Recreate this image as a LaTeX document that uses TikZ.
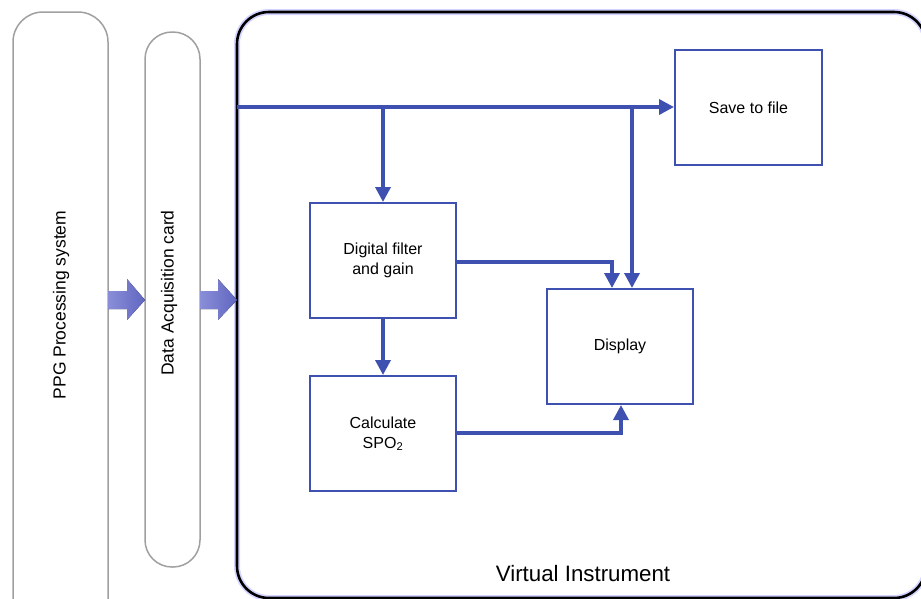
\documentclass[tikz,border=0pt]{standalone}
\usepackage{fontspec}
\setmainfont{Liberation Sans}
\usetikzlibrary{arrows.meta,shapes.arrows}
\definecolor{flow}{HTML}{3F51B0}
\definecolor{pill}{HTML}{A0A0A0}
\definecolor{bigA}{HTML}{8A8ED8}
\definecolor{bigB}{HTML}{6066C0}
\tikzset{
  x=1pt, y=-1pt,
  pillbox/.style={draw=pill, line width=1.5pt},
  blockbox/.style={draw=flow, line width=2pt, minimum width=146pt, minimum height=115pt, align=center, font=\fontsize{16}{20}\selectfont, inner sep=0pt},
  conn/.style={draw=flow, line width=3.5pt, -{Triangle[length=15pt,width=15pt]}},
  vlabel/.style={rotate=90, font=\fontsize{17.5}{20}\selectfont},
  fatarrow/.style={left color=bigA, right color=bigB, draw=none}
}
\begin{document}
\begin{tikzpicture}
\useasboundingbox (0,0) rectangle (921,598);
\begin{scope}
\clip (0,0) rectangle (921,598);
% left pills
\draw[pillbox, rounded corners=30pt] (13,620) -- (13,12) -- (108,12) -- (108,620);
\node[vlabel] (ppg) at (61,305) {PPG Processing system};
\draw[pillbox, rounded corners=27pt] (145,32) rectangle (200,567);
\node[vlabel] (daq) at (169,293) {Data Acquisition card};
% virtual instrument frame
\draw[draw=blue!50!white, line width=6pt, rounded corners=32pt, opacity=0.35] (237,12) rectangle (926,598);
\draw[draw=black, line width=2.6pt, rounded corners=32pt] (237,12) rectangle (926,598);
\node[font=\fontsize{22.3}{24}\selectfont] (vi) at (583,574) {Virtual Instrument};
% fat arrows
\fill[fatarrow] (108,291) -- (127,291) -- (127,279) -- (145,300) -- (127,320) -- (127,309) -- (108,309) -- cycle;
\fill[fatarrow] (200,291) -- (218,291) -- (218,279) -- (237,300) -- (218,320) -- (218,309) -- (200,309) -- cycle;
\end{scope}
% blocks
\node[blockbox, minimum width=147pt] (save) at (748.5,107.5) {Save to file};
\node[blockbox] (filt) at (383,260.5) {Digital filter\\and gain};
\node[blockbox] (disp) at (620,346.5) {Display};
\node[blockbox] (calc) at (383,433.5) {Calculate\\SPO\textsubscript{2}};
% connectors
\coordinate (in) at (237,107);
\draw[conn] (in) -- (save.west |- in);
\draw[conn] (filt.north |- in) -- (filt.north);
\draw[conn] (632,107) -- (disp.north -| 632,0);
\draw[conn] (filt.east |- 0,262) -- (612,262) -- (disp.north -| 612,0);
\draw[conn] (filt.south) -- (calc.north);
\draw[conn] (calc.east |- 0,433) -- (621,433) -- (disp.south -| 621,0);
\end{tikzpicture}
\end{document}
